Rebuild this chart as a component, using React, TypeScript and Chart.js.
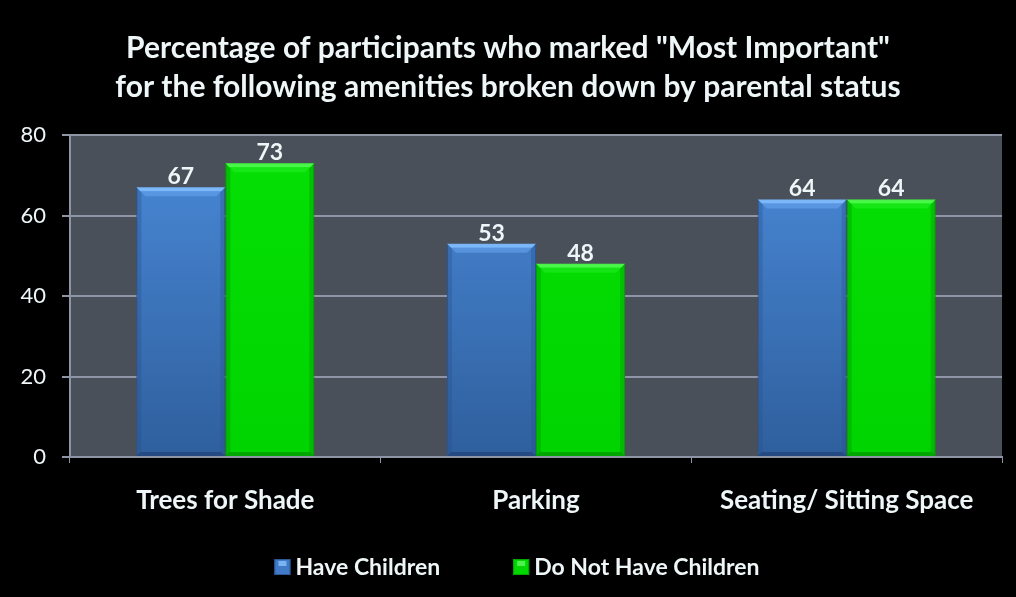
import React, { useEffect, useRef } from "react";
import { Chart, registerables } from "chart.js";

Chart.register(...registerables);

const categories = ["Trees for Shade", "Parking", "Seating/ Sitting Space"];
const haveChildren = [67, 53, 64];
const noChildren = [73, 48, 64];
const seriesNames = ["Have Children", "Do Not Have Children"];
const titleLines = [
  'Percentage of participants who marked "Most Important"',
  "for the following amenities broken down by parental status",
];
const yTicks = { min: 0, max: 80, step: 20 };

const FONT = "Lato, 'Open Sans', sans-serif";
const TEXT = "#eef6f8";
const GRID = "#8d95a6";

function grad(ctx: any, kind: "blue" | "green") {
  const chart = ctx.chart;
  const area = chart.chartArea;
  if (!area) return kind === "blue" ? "#3f7bc9" : "#00d800";
  const g = chart.ctx.createLinearGradient(0, area.top, 0, area.bottom);
  if (kind === "blue") {
    g.addColorStop(0, "#4a8ad9");
    g.addColorStop(1, "#2f5f9d");
  } else {
    g.addColorStop(0, "#05e005");
    g.addColorStop(1, "#00d400");
  }
  return g;
}

const bevelPlugin = {
  id: "bevel",
  afterDatasetsDraw(chart: any) {
    const ctx = chart.ctx;
    chart.data.datasets.forEach((ds: any, di: number) => {
      const meta = chart.getDatasetMeta(di);
      const light = di === 0 ? "rgba(130,190,255,0.9)" : "rgba(80,250,80,0.9)";
      const mid = di === 0 ? "rgba(110,170,245,0.5)" : "rgba(40,240,40,0.5)";
      const dark = di === 0 ? "rgba(30,60,110,0.6)" : "rgba(0,120,0,0.5)";
      const side = di === 0 ? "rgba(40,80,140,0.35)" : "rgba(0,150,0,0.4)";
      meta.data.forEach((bar: any, i: number) => {
        const { x, y, base, width } = bar.getProps(["x", "y", "base", "width"], true);
        const l = x - width / 2;
        const r = x + width / 2;
        ctx.save();
        const trap = (t: number, b: number, color: string) => {
          ctx.fillStyle = color;
          ctx.beginPath();
          ctx.moveTo(l + t, y + t);
          ctx.lineTo(r - t, y + t);
          ctx.lineTo(r - b, y + b);
          ctx.lineTo(l + b, y + b);
          ctx.closePath();
          ctx.fill();
        };
        trap(0, 4, light);
        trap(4, 9, mid);
        // bottom bevel
        ctx.fillStyle = dark;
        ctx.beginPath();
        ctx.moveTo(l, base);
        ctx.lineTo(r, base);
        ctx.lineTo(r - 4, base - 4);
        ctx.lineTo(l + 4, base - 4);
        ctx.closePath();
        ctx.fill();
        // side edges
        ctx.fillStyle = side;
        ctx.beginPath();
        ctx.moveTo(l, y);
        ctx.lineTo(l + 5, y + 5);
        ctx.lineTo(l + 5, base - 4);
        ctx.lineTo(l, base);
        ctx.closePath();
        ctx.fill();
        ctx.beginPath();
        ctx.moveTo(r, y);
        ctx.lineTo(r - 5, y + 5);
        ctx.lineTo(r - 5, base - 4);
        ctx.lineTo(r, base);
        ctx.closePath();
        ctx.fill();
        // value label
        ctx.fillStyle = TEXT;
        ctx.font = `bold 23px ${FONT}`;
        ctx.textAlign = "center";
        ctx.textBaseline = "alphabetic";
        ctx.fillText(String(ds.data[i]), x, y - 3);
        ctx.restore();
      });
    });
  },
};

const bgPlugin = {
  id: "bg",
  beforeDraw(chart: any) {
    const { ctx, width, height, chartArea } = chart;
    ctx.save();
    ctx.fillStyle = "#000000";
    ctx.fillRect(0, 0, width, height);
    ctx.fillStyle = "#4a505a";
    ctx.fillRect(chartArea.left, chartArea.top, chartArea.right - chartArea.left, chartArea.bottom - chartArea.top);
    ctx.restore();
  },
  afterDraw(chart: any) {
    const { ctx, width } = chart;
    ctx.save();
    // title
    ctx.fillStyle = TEXT;
    ctx.font = `bold 30px ${FONT}`;
    ctx.textAlign = "center";
    ctx.textBaseline = "middle";
    ctx.fillText(titleLines[0], width / 2, 48);
    ctx.fillText(titleLines[1], width / 2, 87);
    // legend
    ctx.font = `bold 23px ${FONT}`;
    const box = 16;
    const gap = 5;
    const spacing = 73;
    const colors = [
      ["#3f7bc9", "#2d5a96", "#7ab4f0"],
      ["#00d800", "#00a800", "#50f050"],
    ];
    const widths = seriesNames.map((n) => box + gap + ctx.measureText(n).width);
    const total = widths[0] + spacing + widths[1];
    let cx = width / 2 + 9 - total / 2;
    const cy = 567;
    seriesNames.forEach((n, i) => {
      ctx.fillStyle = colors[i][0];
      ctx.fillRect(cx, cy - box / 2, box, box);
      ctx.fillStyle = colors[i][2];
      ctx.fillRect(cx + 4, cy - box / 2 + 2, box - 8, 5);
      ctx.strokeStyle = colors[i][1];
      ctx.lineWidth = 1;
      ctx.strokeRect(cx + 0.5, cy - box / 2 + 0.5, box - 1, box - 1);
      ctx.fillStyle = TEXT;
      ctx.textAlign = "left";
      ctx.textBaseline = "middle";
      ctx.fillText(n, cx + box + gap, cy + 1);
      cx += widths[i] + spacing;
    });
    ctx.restore();
  },
};

export default function App() {
  const ref = useRef<HTMLCanvasElement>(null);
  useEffect(() => {
    document.body.style.margin = "0";
    document.body.style.background = "#000";
    const chart = new Chart(ref.current!, {
      type: "bar",
      data: {
        labels: categories,
        datasets: [
          {
            label: seriesNames[0],
            data: haveChildren,
            backgroundColor: (c: any) => grad(c, "blue"),
            borderColor: "#2d5a96",
            borderWidth: 1,
          },
          {
            label: seriesNames[1],
            data: noChildren,
            backgroundColor: (c: any) => grad(c, "green"),
            borderColor: "#00a800",
            borderWidth: 1,
          },
        ],
      },
      options: {
        animation: false,
        responsive: false,
        devicePixelRatio: 1,
        datasets: { bar: { categoryPercentage: 0.573, barPercentage: 1 } },
        layout: { padding: { left: 10, right: 14, top: 135, bottom: 0 } },
        plugins: {
          title: { display: false },
          legend: { display: false },
          tooltip: { enabled: false },
        },
        scales: {
          x: {
            grid: { display: true, drawOnChartArea: false, color: GRID, tickLength: 6 },
            border: { color: GRID, width: 2 },
            ticks: { color: TEXT, font: { family: FONT, size: 26, weight: "bold" }, padding: 22 },
            afterFit: (s: any) => {
              s.height = 140;
            },
          },
          y: {
            min: yTicks.min,
            max: yTicks.max,
            ticks: { stepSize: yTicks.step, color: TEXT, font: { family: FONT, size: 22 }, padding: 16 },
            grid: { color: GRID, lineWidth: 2, tickLength: 8 },
            border: { color: GRID, width: 2 },
            afterFit: (s: any) => {
              s.width = 60;
            },
          },
        },
      },
      plugins: [bgPlugin, bevelPlugin],
    } as any);
    return () => chart.destroy();
  }, []);
  return (
    <div style={{ width: 1016, height: 597, background: "#000" }}>
      <canvas ref={ref} width={1016} height={597} />
    </div>
  );
}
